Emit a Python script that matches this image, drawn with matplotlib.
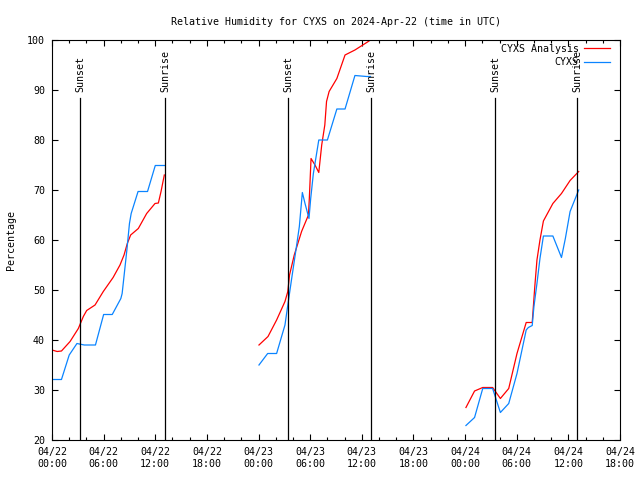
import matplotlib
matplotlib.use("Agg")
import matplotlib.pyplot as plt
import matplotlib.dates as mdates
import numpy as np
import pandas as pd

base = pd.Timestamp("2024-04-22 00:00")
nan = np.nan

# hours since 04/22 00:00 UTC, nan breaks the gaps
obs_hours = [0.0, 1.1, 2.0, 2.9, 3.75, 5.05, 6.0, 7.0, 8.0, 8.15, 8.7, 9.0, 9.2, 10.0, 11.1, 12.0, 13.1,
             nan,
             24.05, 25.06, 26.1, 27.07, 27.46, 27.85, 28.43, 28.74, 29.09, 29.4, 29.86, 30.06, 30.37,
             31.0, 32.0, 33.1, 34.05, 35.2, 36.56, 37.0,
             nan,
             48.1, 49.1, 50.05, 51.2, 51.5, 52.1, 53.07, 54.03, 55.1, 55.35, 55.8, 56.0, 56.35, 56.7,
             57.1, 58.2, 59.2, 59.65, 60.2, 61.2]
obs_rh = [32.1, 32.1, 37.0, 39.3, 39.0, 39.0, 45.1, 45.1, 48.3, 49.3, 58.0, 63.3, 65.3, 69.7, 69.7, 74.9, 74.9,
          nan,
          35.0, 37.3, 37.3, 43.0, 47.7, 52.3, 59.0, 62.7, 69.5, 67.3, 64.3, 68.3, 73.3,
          80.0, 80.0, 86.2, 86.2, 92.9, 92.7, 92.7,
          nan,
          22.9, 24.5, 30.3, 30.3, 28.7, 25.5, 27.3, 33.3, 42.0, 42.5, 42.9, 46.7, 51.3, 56.3,
          60.8, 60.8, 56.5, 60.3, 65.7, 70.0]

ana_hours = [0.0, 0.6, 1.1, 2.1, 3.06, 3.64, 4.03, 5.0, 5.96, 7.1, 7.9, 8.37, 8.75, 9.14, 10.03, 11.0,
             11.97, 12.36, 12.67, 13.05,
             nan,
             24.05, 25.1, 26.1, 27.07, 27.4, 27.6, 28.15, 29.0, 29.8, 29.9, 30.1, 30.56, 31.0, 31.34,
             31.7, 31.9, 32.2, 33.1, 34.05, 35.2, 36.75, 37.0,
             nan,
             48.1, 49.1, 50.05, 51.2, 52.1, 53.07, 54.03, 55.1, 55.8, 56.1, 56.35, 56.7, 57.1, 58.2,
             59.2, 60.2, 61.2]
ana_rh = [38.0, 37.7, 37.8, 39.7, 42.3, 44.7, 45.9, 47.0, 49.7, 52.5, 55.0, 57.0, 59.3, 61.0, 62.3, 65.3,
          67.3, 67.4, 69.7, 73.0,
          nan,
          39.0, 40.7, 44.0, 47.7, 49.7, 53.0, 57.0, 61.7, 65.0, 68.3, 76.3, 75.0, 73.5, 79.0,
          83.0, 87.7, 89.7, 92.3, 97.0, 98.0, 99.7, 100.0,
          nan,
          26.5, 29.8, 30.5, 30.5, 28.3, 30.3, 37.3, 43.5, 43.5, 50.7, 56.0, 60.0, 63.8, 67.3,
          69.3, 71.9, 73.7]

sun_hours = [3.25, 13.13, 27.42, 37.07, 51.48, 61.0]
sun_labels = ["Sunset", "Sunrise", "Sunset", "Sunrise", "Sunset", "Sunrise"]

plt.rcParams['font.family'] = 'DejaVu Sans Mono'
plt.rcParams['font.size'] = 7.2


def to_time(hours):
    out = []
    for h in hours:
        out.append(pd.NaT if np.isnan(h) else base + pd.Timedelta(hours=h))
    return pd.to_datetime(out)


fig = plt.figure(figsize=(6.4, 4.8), dpi=100)
ax = fig.add_axes([52 / 640, 40 / 480, 568 / 640, 400 / 480])

ax.plot(to_time(ana_hours), ana_rh, color='#ff0000', lw=0.9, label='CYXS Analysis')
ax.plot(to_time(obs_hours), obs_rh, color='#0a84ff', lw=0.9, label='CYXS')

for h, lab in zip(sun_hours, sun_labels):
    t = base + pd.Timedelta(hours=h)
    ax.axvline(t, ymin=0, ymax=0.855, color='black', lw=0.9)
    ax.text(t, 0.87, lab, transform=ax.get_xaxis_transform(), rotation=90,
            ha='center', va='bottom')

ax.set_xlim(base, base + pd.Timedelta(hours=66))
ax.set_ylim(20, 100)
ax.set_yticks(np.arange(20, 101, 10))
ax.xaxis.set_major_locator(mdates.HourLocator(byhour=[0, 6, 12, 18]))
ax.xaxis.set_minor_locator(mdates.HourLocator(interval=2))
ax.xaxis.set_major_formatter(mdates.DateFormatter('%m/%d\n%H:%M'))
ax.tick_params(which='both', direction='in', top=True, right=True, width=0.8)
ax.tick_params(which='major', length=4, pad=5)
ax.tick_params(which='minor', length=2.5)
for s in ax.spines.values():
    s.set_linewidth(0.8)

ax.set_title('Relative Humidity for CYXS on 2024-Apr-22 (time in UTC)', fontsize=7.2, pad=11)
ax.set_ylabel('Percentage', labelpad=8)

ax.legend(loc='upper right', bbox_to_anchor=(0.982, 0.99), frameon=False, markerfirst=False,
          handlelength=2.6, handletextpad=0.5, labelspacing=0.35, borderaxespad=0, borderpad=0)

fig.savefig('out.png', dpi=100)
